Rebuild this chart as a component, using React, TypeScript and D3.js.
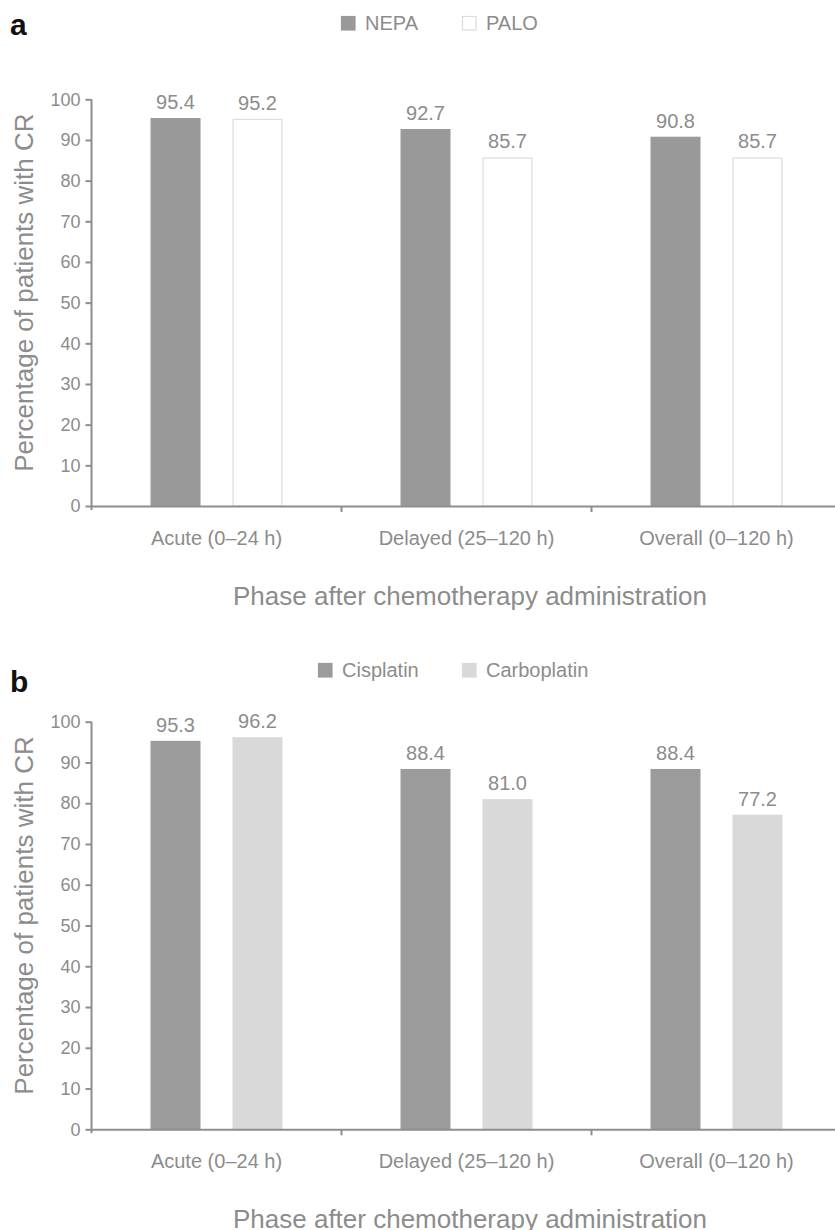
import * as d3 from 'd3';
import { useEffect, useRef } from 'react';

const categories = ['Acute (0–24 h)', 'Delayed (25–120 h)', 'Overall (0–120 h)'];
const yTicks = [0, 10, 20, 30, 40, 50, 60, 70, 80, 90, 100];

// panel a
const seriesA = ['NEPA', 'PALO'];
const nepaValues = [95.4, 92.7, 90.8];
const paloValues = [95.2, 85.7, 85.7];

// panel b
const seriesB = ['Cisplatin', 'Carboplatin'];
const cisplatinValues = [95.3, 88.4, 88.4];
const carboplatinValues = [96.2, 81.0, 77.2];

const yTitle = 'Percentage of patients with CR';
const xTitle = 'Phase after chemotherapy administration';

const FONT = '"Liberation Sans", Arial, Helvetica, sans-serif';
const TEXT = '#8c8c8c';
const AXIS = '#8e8e8e';

function drawPanel(svg, opts) {
  const { tag, series, values, fills, strokes, top, bottom, legendTop, legendX, tagY } = opts;
  const left = 91.5;

  const x = d3.scaleBand()
    .domain(categories)
    .range([left, left + 750])
    .paddingInner(0)
    .paddingOuter(0);

  const inner = d3.scaleBand()
    .domain(series)
    .range([0, 132])
    .paddingInner(0.39);

  const y = d3.scaleLinear()
    .domain([0, 100])
    .range([bottom, top]);

  const g = svg.append('g');

  // panel letter
  g.append('text')
    .attr('x', 10)
    .attr('y', tagY)
    .attr('font-family', FONT)
    .attr('font-weight', 'bold')
    .attr('font-size', 30)
    .attr('fill', '#111')
    .text(tag);

  // legend
  series.forEach((s, i) => {
    g.append('rect')
      .attr('x', legendX[i] + 0.5)
      .attr('y', legendTop + 0.5)
      .attr('width', 13.5)
      .attr('height', 13.5)
      .attr('fill', fills[i])
      .attr('stroke', strokes[i])
      .attr('stroke-width', 1.2);
    g.append('text')
      .attr('x', legendX[i] + 24)
      .attr('y', legendTop + 13.5)
      .attr('font-family', FONT)
      .attr('font-size', 20)
      .attr('fill', TEXT)
      .text(s);
  });

  // bars
  series.forEach((s, si) => {
    const vals = values[si];
    g.append('g')
      .selectAll('rect')
      .data(vals)
      .enter()
      .append('rect')
      .attr('x', (d, i) => x(categories[i]) + x.bandwidth() / 2 - 66 + inner(s) + 0.6)
      .attr('y', (d) => y(d) + 0.6)
      .attr('width', inner.bandwidth() - 1.2)
      .attr('height', (d) => bottom - y(d) - 0.6)
      .attr('fill', fills[si])
      .attr('stroke', strokes[si])
      .attr('stroke-width', 1.2);

    g.append('g')
      .selectAll('text')
      .data(vals)
      .enter()
      .append('text')
      .attr('x', (d, i) => x(categories[i]) + x.bandwidth() / 2 - 66 + inner(s) + inner.bandwidth() / 2)
      .attr('y', (d) => y(d) - 9)
      .attr('text-anchor', 'middle')
      .attr('font-family', FONT)
      .attr('font-size', 20)
      .attr('fill', TEXT)
      .text((d) => d3.format('.1f')(d));
  });

  // y axis
  const yAxis = g.append('g')
    .attr('transform', `translate(${left},0)`)
    .call(d3.axisLeft(y).tickValues(yTicks).tickSize(6).tickPadding(5));
  yAxis.select('.domain').attr('stroke', AXIS).attr('stroke-width', 2).attr('d', `M0,${top}V${bottom + 4}`);
  yAxis.selectAll('.tick line').attr('stroke', AXIS).attr('stroke-width', 2);
  yAxis.selectAll('.tick text')
    .attr('font-family', FONT)
    .attr('font-size', 18)
    .attr('fill', TEXT);

  // x axis
  const xAxis = g.append('g')
    .attr('transform', `translate(0,${bottom})`)
    .call(d3.axisBottom(x).tickSize(0).tickPadding(25));
  xAxis.select('.domain').attr('stroke', AXIS).attr('stroke-width', 2);
  xAxis.selectAll('.tick text')
    .attr('font-family', FONT)
    .attr('font-size', 20)
    .attr('fill', TEXT);

  // boundary ticks between categories
  g.append('g')
    .selectAll('line')
    .data(categories.slice(1))
    .enter()
    .append('line')
    .attr('x1', (d) => x(d))
    .attr('x2', (d) => x(d))
    .attr('y1', bottom)
    .attr('y2', bottom + 6)
    .attr('stroke', AXIS)
    .attr('stroke-width', 2);

  // titles
  g.append('text')
    .attr('transform', `translate(33,${(top + bottom) / 2 - 10}) rotate(-90)`)
    .attr('text-anchor', 'middle')
    .attr('font-family', FONT)
    .attr('font-size', 26)
    .attr('fill', TEXT)
    .text(yTitle);

  g.append('text')
    .attr('x', 470)
    .attr('y', bottom + 99)
    .attr('text-anchor', 'middle')
    .attr('font-family', FONT)
    .attr('font-size', 26)
    .attr('fill', TEXT)
    .text(xTitle);
}

function App() {
  const ref = useRef(null);

  useEffect(() => {
    const svg = d3.select(ref.current);
    svg.selectAll('*').remove();

    drawPanel(svg, {
      tag: 'a',
      series: seriesA,
      values: [nepaValues, paloValues],
      fills: ['#999999', '#ffffff'],
      strokes: ['#999999', '#dcdcdc'],
      top: 99.3,
      bottom: 506,
      legendTop: 16,
      legendX: [341, 462],
      tagY: 35,
    });

    drawPanel(svg, {
      tag: 'b',
      series: seriesB,
      values: [cisplatinValues, carboplatinValues],
      fills: ['#9a9b9a', '#d9d9d9'],
      strokes: ['#9a9b9a', '#d9d9d9'],
      top: 721.7,
      bottom: 1129.3,
      legendTop: 663,
      legendX: [318, 462],
      tagY: 692,
    });
  }, []);

  return (
    <svg
      ref={ref}
      width={835}
      height={1230}
      style={{ position: 'absolute', left: 0, top: 0, background: '#fff' }}
    />
  );
}

export default App;
